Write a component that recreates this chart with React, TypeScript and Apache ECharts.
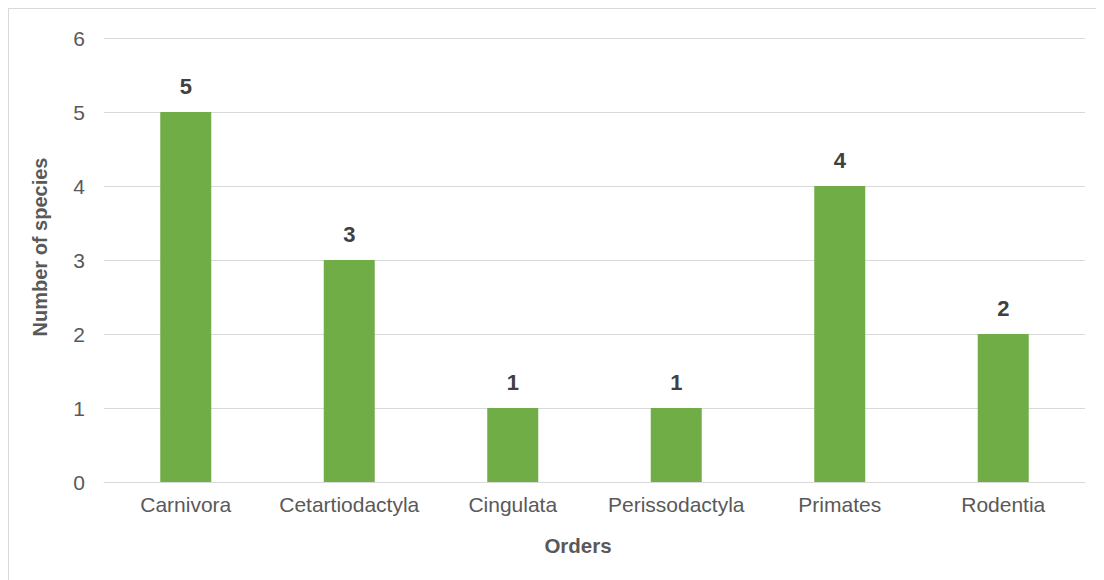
import React, { useEffect, useRef } from "react";
import * as echarts from "echarts";

const categories = ["Carnivora", "Cetartiodactyla", "Cingulata", "Perissodactyla", "Primates", "Rodentia"];
const speciesCounts = [5, 3, 1, 1, 4, 2];
const yMin = 0;
const yMax = 6;
const yInterval = 1;
const xTitle = "Orders";
const yTitle = "Number of species";

const FONT = "'Liberation Sans', Arial, sans-serif";

export default function App() {
  const ref = useRef<HTMLDivElement>(null);
  useEffect(() => {
    if (!ref.current) return;
    const chart = echarts.init(ref.current, null, { renderer: "svg" });
    chart.setOption({
      animation: false,
      backgroundColor: "#ffffff",
      textStyle: { fontFamily: FONT },
      grid: { left: 96, right: 19, top: 30, bottom: 98, containLabel: false },
      xAxis: {
        type: "category",
        data: categories,
        axisLine: { show: true, lineStyle: { color: "#d9d9d9", width: 1 } },
        axisTick: { show: false },
        axisLabel: { color: "#595959", fontSize: 21, fontFamily: FONT, margin: 12, interval: 0 },
      },
      yAxis: {
        type: "value",
        min: yMin,
        max: yMax,
        interval: yInterval,
        axisLine: { show: false },
        axisTick: { show: false },
        axisLabel: { color: "#595959", fontSize: 21, fontFamily: FONT, margin: 19 },
        splitLine: { show: true, lineStyle: { color: "#d9d9d9", width: 1 } },
      },
      series: [
        {
          type: "bar",
          data: speciesCounts,
          barWidth: 51,
          itemStyle: { color: "#70ad47" },
          label: {
            show: true,
            position: "top",
            distance: 15,
            color: "#404040",
            fontSize: 22,
            fontWeight: "bold",
            fontFamily: FONT,
          },
        },
      ],
      graphic: [
        {
          type: "rect",
          shape: { x: 0, y: 0, width: 3000, height: 3000 },
          style: { fill: "none", stroke: "#d9d9d9", lineWidth: 2 },
          silent: true,
          z: 100,
        },
        {
          type: "text",
          x: 570,
          y: 537,
          style: {
            text: xTitle,
            fill: "#595959",
            font: `bold 20.5px ${FONT}`,
            textAlign: "center",
            textVerticalAlign: "middle",
          },
        },
        {
          type: "text",
          x: 32,
          y: 239,
          rotation: Math.PI / 2,
          style: {
            text: yTitle,
            fill: "#595959",
            font: `bold 20px ${FONT}`,
            textAlign: "center",
            textVerticalAlign: "middle",
          },
        },
      ],
    });
    return () => chart.dispose();
  }, []);
  return <div ref={ref} style={{ width: 1096, height: 572 }} />;
}
